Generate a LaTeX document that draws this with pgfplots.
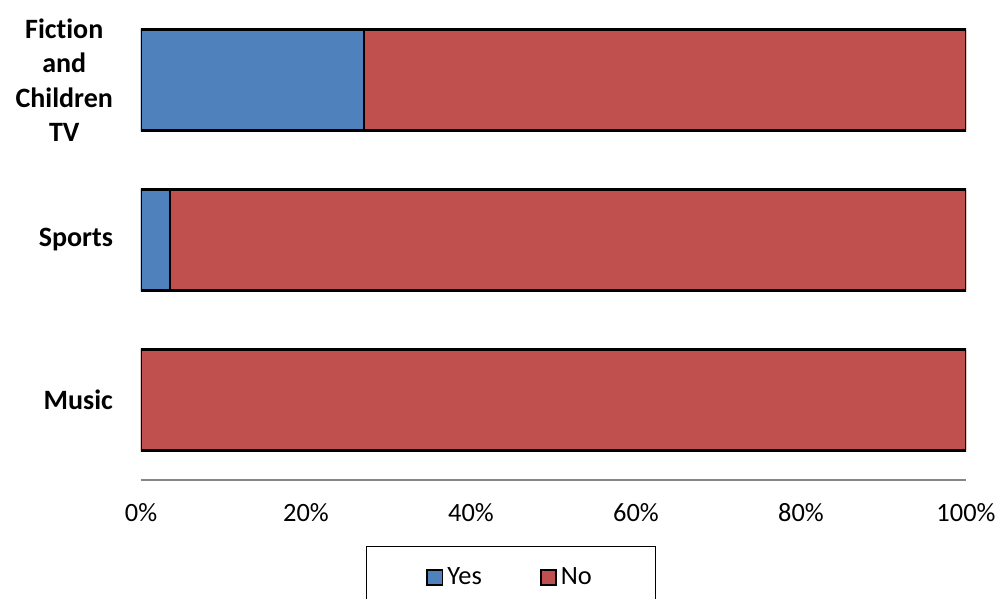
\documentclass[border=0pt]{standalone}
\usepackage{pgfplots}
\pgfplotsset{compat=1.18}
\usepackage{fontspec}
\setmainfont{Carlito}[Ligatures=NoCommon]
\definecolor{yesblue}{HTML}{4F81BD}
\definecolor{nored}{HTML}{C0504D}
\definecolor{axgray}{HTML}{868686}
\begin{document}
\begin{tikzpicture}
\begin{axis}[
  scale only axis,
  width=412.5pt, height=240pt,
  at={(0,0)}, anchor=south west,
  xbar stacked,
  bar width=50.5pt,
  xmin=0, xmax=100,
  ymin=-0.5, ymax=2.5,
  axis x line*=bottom,
  axis y line*=left,
  axis line style={-},
  x axis line style={draw=axgray, line width=0.6pt},
  y axis line style={draw=none},
  major tick length=0pt,
  xtick={0,20,40,60,80,100},
  xticklabels={0\%,20\%,40\%,60\%,80\%,100\%},
  xticklabel style={anchor=center, yshift=-16.5pt, font=\fontsize{13.2}{15}\selectfont},
  ytick={0,1,2},
  yticklabels={Music,Sports,{Fiction\\and\\Children\\TV}},
  yticklabel style={anchor=east, xshift=-10.5pt, align=center, font=\bfseries\fontsize{14}{17.25}\selectfont},
  legend columns=2,
  legend style={at={(0.2727,-0.1375)}, anchor=north west, draw=black, line width=0.5pt,
    inner xsep=30pt, inner ysep=8.5pt, font=\fontsize{13.2}{15}\selectfont,
    /tikz/every even column/.append style={column sep=27pt}},
  legend image code/.code={\draw[#1, draw=black, line width=0.9pt] (0pt,-3.8pt) rectangle (7.6pt,3.8pt);},
]
\addplot[fill=yesblue, draw=black, line width=1.1pt] coordinates {(0,0) (3.5,1) (27,2)};
\addplot[fill=nored, draw=black, line width=1.1pt] coordinates {(100,0) (96.5,1) (73,2)};
\legend{Yes,No}
\end{axis}
\pgfresetboundingbox
\useasboundingbox (-70.5pt,-59.5pt) rectangle (428.5pt,240pt);
\end{tikzpicture}
\end{document}
